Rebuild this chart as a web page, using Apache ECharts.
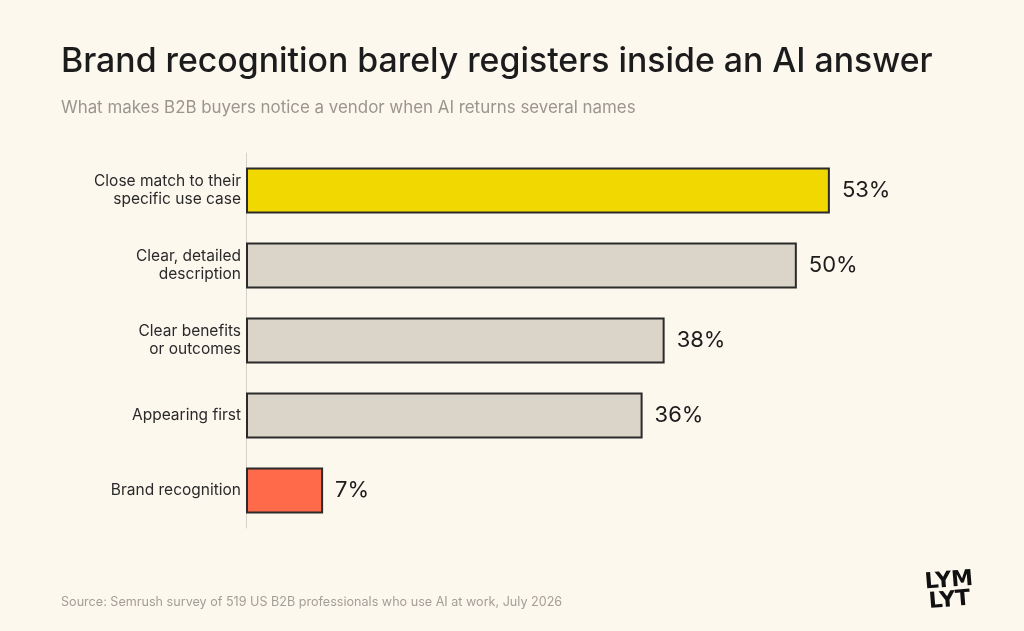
<!DOCTYPE html>
<html>
<head>
<meta charset="utf-8">
<script src="https://cdn.jsdelivr.net/npm/echarts@6/dist/echarts.min.js"></script>
<style>
  html, body { margin: 0; padding: 0; background: #fdf8ee; }
  #chart { width: 1024px; height: 631px; }
</style>
</head>
<body>
<div id="chart"></div>
<script>
"use strict";

const categories = [
  "Close match to their\nspecific use case",
  "Clear, detailed\ndescription",
  "Clear benefits\nor outcomes",
  "Appearing first",
  "Brand recognition",
];
const values = [53, 50, 38, 36, 7];
const barColors = ["#f0d800", "#dbd4c8", "#dbd4c8", "#dbd4c8", "#ff6b4a"];

const font = "Inter, 'Noto Sans', sans-serif";
const chart = echarts.init(document.getElementById("chart"), null, { renderer: "canvas" });

chart.setOption({
  backgroundColor: "#fdf8ee",
  animation: false,
  textStyle: { fontFamily: font },
  title: [
    { text: "Brand recognition barely registers inside an AI answer", left: 56, top: 40,
      textStyle: { fontSize: 33.8, fontWeight: 500, color: "#1c1c1c", fontFamily: font } },
    { text: "What makes B2B buyers notice a vendor when AI returns several names", left: 56, top: 94,
      textStyle: { fontSize: 16.9, fontWeight: 400, color: "#9a958d", fontFamily: font } },
    { text: "Source: Semrush survey of 519 US B2B professionals who use AI at work, July 2026", left: 56, top: 591,
      textStyle: { fontSize: 12.6, fontWeight: 400, color: "#a39e96", fontFamily: font } },
  ],
  grid: { left: 246, top: 153, width: 661, height: 375 },
  xAxis: { type: "value", min: 0, max: 60, show: false },
  yAxis: {
    type: "category", data: categories, inverse: true,
    axisLine: { show: true, lineStyle: { color: "#d6d1c8", width: 1 } },
    axisTick: { show: false },
    axisLabel: { color: "#2a2a2a", fontSize: 15.5, lineHeight: 18, margin: 5, fontFamily: font },
  },
  series: [{
    type: "bar", barWidth: 46,
    data: values.map((v, i) => ({ value: v, itemStyle: { color: barColors[i] } })),
    itemStyle: { borderColor: "#2b2b2b", borderWidth: 2 },
    label: { show: true, position: "right", distance: 12, formatter: "{c}%", color: "#1c1c1c", fontSize: 22, fontFamily: font },
  }],
  graphic: [
    { type: "text", left: 924, top: 568, rotation: 0.08,
      style: { text: "LYM", font: "900 22px 'DejaVu Sans', sans-serif", fill: "#111" } },
    { type: "text", left: 928, top: 588, rotation: 0.08,
      style: { text: "LYT", font: "900 22px 'DejaVu Sans', sans-serif", fill: "#111" } },
  ],
});
</script>
</body>
</html>
